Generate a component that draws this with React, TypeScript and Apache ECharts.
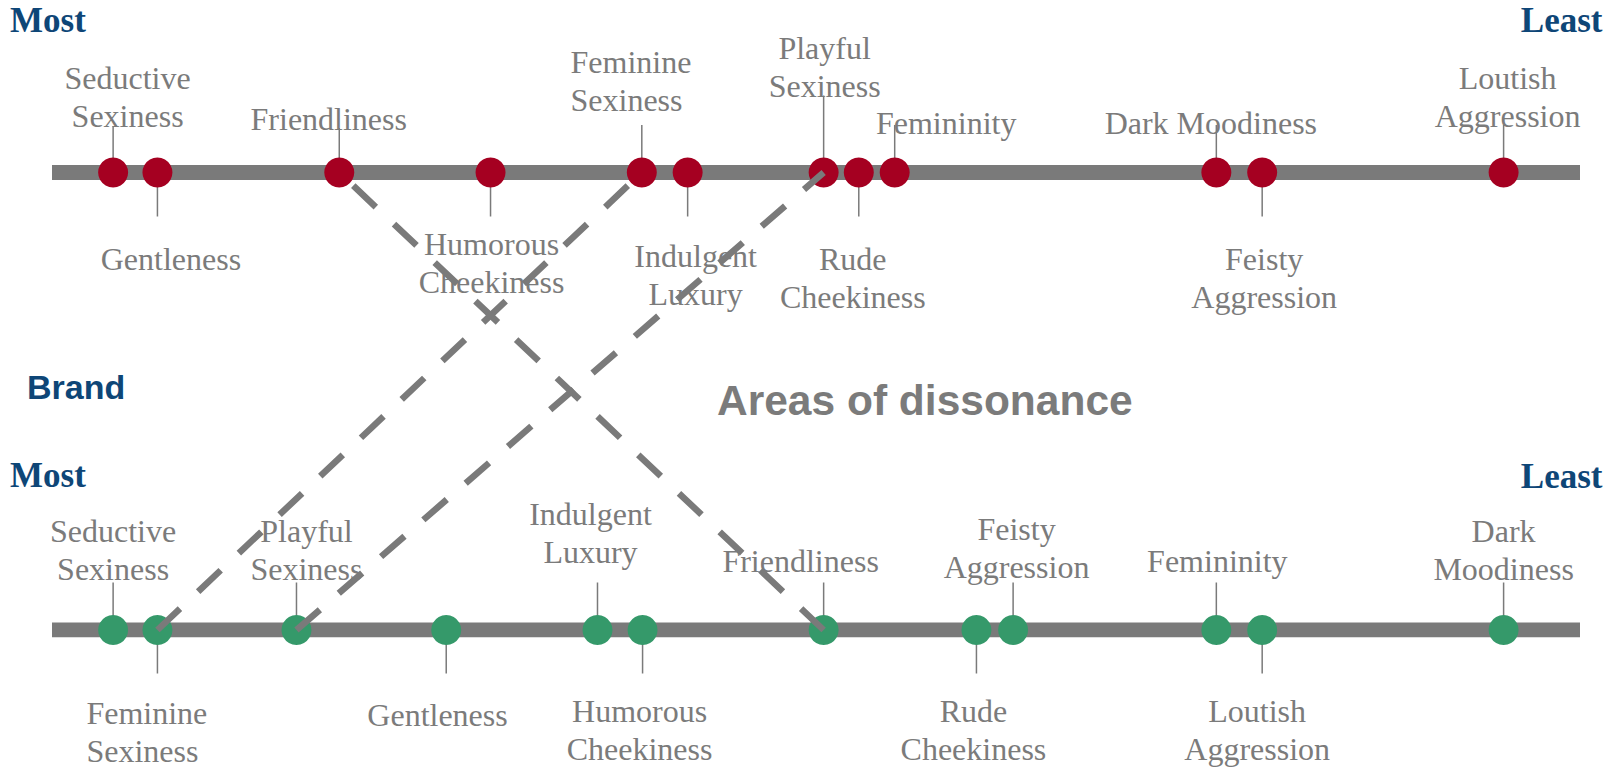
import React, { useEffect, useRef } from "react";
import * as echarts from "echarts";

// ---- Data ----
const topNames = [
  "Seductive Sexiness", "Gentleness", "Friendliness", "Humorous Cheekiness",
  "Feminine Sexiness", "Indulgent Luxury", "Playful Sexiness", "Rude Cheekiness",
  "Femininity", "Dark Moodiness", "Feisty Aggression", "Loutish Aggression",
];
const topValues = [4.0, 6.9, 18.8, 28.7, 38.6, 41.6, 50.5, 52.8, 55.15, 76.2, 79.2, 95.0];

const bottomNames = [
  "Seductive Sexiness", "Feminine Sexiness", "Playful Sexiness", "Gentleness",
  "Indulgent Luxury", "Humorous Cheekiness", "Friendliness", "Rude Cheekiness",
  "Feisty Aggression", "Femininity", "Loutish Aggression", "Dark Moodiness",
];
const bottomValues = [4.0, 6.9, 16.0, 25.8, 35.7, 38.65, 50.5, 60.5, 62.9, 76.2, 79.2, 95.0];

const dissonantNames = ["Feminine Sexiness", "Playful Sexiness", "Friendliness"];

const rowLabels = { mostText: "Most", leastText: "Least", brandText: "Brand", title: "Areas of dissonance" };

// ---- Label layout (styling only) ----
type Lay = { dx: number; dy: number; lead: number; wrap: boolean; align?: string };
const topLayout: Record<string, Lay> = {
  "Seductive Sexiness": { dx: 14.5, dy: -84, lead: -46.5, wrap: true },
  "Gentleness": { dx: 13.5, dy: 97.5, lead: 44, wrap: false },
  "Friendliness": { dx: -10.5, dy: -42.5, lead: -44.5, wrap: false },
  "Humorous Cheekiness": { dx: 1, dy: 82, lead: 44, wrap: true },
  "Feminine Sexiness": { dx: -71.3, dy: -100, lead: -47.5, wrap: true, align: "left" },
  "Indulgent Luxury": { dx: 8, dy: 94, lead: 44, wrap: true },
  "Playful Sexiness": { dx: 1, dy: -114, lead: -77, wrap: true },
  "Rude Cheekiness": { dx: -6, dy: 97, lead: 44, wrap: true },
  "Femininity": { dx: 51.5, dy: -39, lead: -47.5, wrap: false },
  "Dark Moodiness": { dx: -5.5, dy: -39, lead: -47.5, wrap: false },
  "Feisty Aggression": { dx: 2, dy: 97.5, lead: 44, wrap: true },
  "Loutish Aggression": { dx: 4, dy: -84, lead: -47.5, wrap: true },
};
const bottomLayout: Record<string, Lay> = {
  "Seductive Sexiness": { dx: 0, dy: -88, lead: -47.5, wrap: true },
  "Feminine Sexiness": { dx: -71, dy: 93.5, lead: 43.5, wrap: true, align: "left" },
  "Playful Sexiness": { dx: 10, dy: -88, lead: -47.5, wrap: true },
  "Gentleness": { dx: -8.7, dy: 96, lead: 43.5, wrap: false },
  "Indulgent Luxury": { dx: -7, dy: -105, lead: -47.5, wrap: true },
  "Humorous Cheekiness": { dx: -3, dy: 92, lead: 43.5, wrap: true },
  "Friendliness": { dx: -23, dy: -58, lead: -47.5, wrap: false },
  "Rude Cheekiness": { dx: -3, dy: 92, lead: 43.5, wrap: true },
  "Feisty Aggression": { dx: 3.4, dy: -90, lead: -47.5, wrap: true },
  "Femininity": { dx: 1, dy: -58, lead: -47.5, wrap: false },
  "Loutish Aggression": { dx: -5, dy: 92, lead: 43.5, wrap: true },
  "Dark Moodiness": { dx: 0, dy: -88, lead: -47.5, wrap: true },
};

const GRAY = "#7a7a7a";
const TEXT_GRAY = "#7b7b7b";
const BLUE = "#0e4677";
const RED = "#a50021";
const GREEN = "#35996a";
const SERIF = "'Liberation Serif', 'Times New Roman', serif";
const SANS = "'Liberation Sans', Arial, sans-serif";
const LABEL_FS = 32;
const LABEL_LH = 38;

export default function App() {
  const ref = useRef<HTMLDivElement>(null);

  useEffect(() => {
    if (!ref.current) return;
    const chart = echarts.init(ref.current, undefined, { renderer: "svg" });

    const labelSeries = (row: number, names: string[], values: number[], layout: Record<string, Lay>) => ({
      type: "custom",
      silent: true,
      z: 2,
      data: values.map((v, i) => [v, row, i]),
      renderItem: (params: any, api: any) => {
        const v = api.value(0);
        const r = api.value(1);
        const idx = api.value(2);
        const [px, py] = api.coord([v, r]);
        const name = names[idx];
        const L = layout[name];
        const text = L.wrap ? name.replace(" ", "\n") : name;
        const textTop = py + L.dy - 0.34 * LABEL_FS - LABEL_LH / 2;
        return {
          type: "group",
          children: [
            {
              type: "line",
              shape: { x1: px, y1: py, x2: px, y2: py + L.lead },
              style: { stroke: GRAY, lineWidth: 1.5 },
            },
            {
              type: "text",
              x: px + L.dx,
              y: textTop,
              style: {
                text,
                fill: TEXT_GRAY,
                fontFamily: SERIF,
                fontSize: LABEL_FS,
                lineHeight: LABEL_LH,
                align: L.align || "center",
                verticalAlign: "top",
              },
            },
          ],
        };
      },
    });

    const barSeries = (row: number) => ({
      type: "line",
      silent: true,
      z: 1,
      symbol: "none",
      data: [[0, row], [100, row]],
      lineStyle: { color: GRAY, width: 15, cap: "butt" },
    });

    const dashSeries = dissonantNames.map((n) => ({
      type: "line",
      silent: true,
      z: 5,
      symbol: "none",
      data: [
        [bottomValues[bottomNames.indexOf(n)], 0],
        [topValues[topNames.indexOf(n)], 1],
      ],
      lineStyle: { color: GRAY, width: 6.5, type: [31, 25], cap: "butt" },
    }));

    const option: any = {
      animation: false,
      grid: { left: 52, right: 40, top: 172.5, bottom: 138 },
      xAxis: { type: "value", min: 0, max: 100, show: false },
      yAxis: { type: "value", min: 0, max: 1, show: false },
      series: [
        barSeries(1),
        barSeries(0),
        labelSeries(1, topNames, topValues, topLayout),
        labelSeries(0, bottomNames, bottomValues, bottomLayout),
        {
          type: "scatter",
          silent: true,
          z: 3,
          symbolSize: 30,
          itemStyle: { color: RED, opacity: 1 },
          data: topValues.map((v) => [v, 1]),
        },
        {
          type: "scatter",
          silent: true,
          z: 3,
          symbolSize: 30,
          itemStyle: { color: GREEN, opacity: 1 },
          data: bottomValues.map((v) => [v, 0]),
        },
        ...dashSeries,
      ],
      graphic: [
        { type: "text", left: 10, top: 3, style: { text: rowLabels.mostText, fill: BLUE, font: `bold 35px ${SERIF}` } },
        { type: "text", right: 17.5, top: 3, style: { text: rowLabels.leastText, fill: BLUE, font: `bold 35px ${SERIF}` } },
        { type: "text", left: 10, top: 457.5, style: { text: rowLabels.mostText, fill: BLUE, font: `bold 35px ${SERIF}` } },
        { type: "text", right: 17.5, top: 458.5, style: { text: rowLabels.leastText, fill: BLUE, font: `bold 35px ${SERIF}` } },
        { type: "text", left: 27, top: 369.5, style: { text: rowLabels.brandText, fill: BLUE, font: `bold 34px ${SANS}` } },
        { type: "text", left: 717, top: 379, style: { text: rowLabels.title, fill: TEXT_GRAY, font: `bold 42.5px ${SANS}` } },
      ],
    };

    chart.setOption(option);
    return () => chart.dispose();
  }, []);

  return (
    <div
      ref={ref}
      style={{ position: "absolute", left: 0, top: 0, width: 1620, height: 768, background: "#fff" }}
    />
  );
}
